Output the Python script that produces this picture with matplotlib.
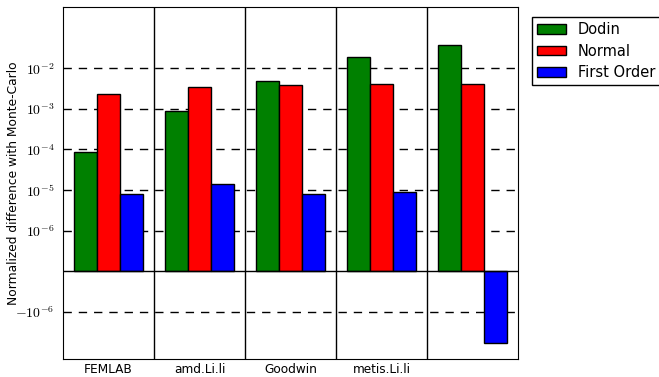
import matplotlib
matplotlib.use("Agg")
import matplotlib.pyplot as plt
import numpy as np

plt.rcParams['mathtext.fontset'] = 'cm'
plt.rcParams['font.family'] = 'DejaVu Sans'

# data
groups = ['FEMLAB', 'amd.Li.li', 'Goodwin', 'metis.Li.li', '']
dodin = [8.7e-5, 8.7e-4, 4.9e-3, 1.9e-2, 3.7e-2]
normal = [2.3e-3, 3.5e-3, 3.9e-3, 4.2e-3, 4.2e-3]
first_order = [8.0e-6, 1.4e-5, 8.0e-6, 9.1e-6, -5.9e-6]
series = [('Dodin', dodin, 'green'), ('Normal', normal, 'red'),
          ('First Order', first_order, 'blue')]
yticks = [-1e-6, 1e-6, 1e-5, 1e-4, 1e-3, 1e-2]
yticklabels = [r'$-10^{-6}$', r'$10^{-6}$', r'$10^{-5}$', r'$10^{-4}$',
               r'$10^{-3}$', r'$10^{-2}$']

fig = plt.figure(figsize=(6.59, 3.77), dpi=100)
ax = fig.add_axes([0.0956, 0.0477, 0.6905, 0.933])

x = np.arange(len(groups))
w = 0.25
for i, (name, vals, col) in enumerate(series):
    ax.bar(x + 0.125 + i * w, vals, w, align='edge', color=col,
           edgecolor='black', linewidth=1, label=name, zorder=3)

# linear part spans one decade on each side of zero
ax.set_yscale('symlog', linthresh=1e-6, linscale=0.9)
ax.set_ylim(-1.44e-5, 0.316)
ax.set_xlim(0, len(groups))

ax.set_yticks(yticks)
ax.set_yticklabels(yticklabels, fontsize=10)
ax.yaxis.set_minor_locator(matplotlib.ticker.NullLocator())
ax.set_xticks(x + 0.5)
ax.set_xticklabels(groups, fontsize=8.7)
ax.tick_params(axis='x', length=0, pad=3)
ax.tick_params(axis='y', length=0, pad=6)

for t in yticks:
    ax.axhline(t, color='black', linestyle=(0, (6, 5)), linewidth=1, zorder=1)
ax.axhline(0, color='black', linewidth=1, zorder=4)
for g in range(1, len(groups)):
    ax.axvline(g, color='black', linewidth=1, zorder=4)

ax.set_ylabel('Normalized difference with Monte-Carlo', fontsize=8.8)
ax.yaxis.set_label_coords(-0.095, 0.5)

ax.legend(loc='upper left', bbox_to_anchor=(0.807, 0.955),
          bbox_transform=fig.transFigure, fontsize=10.5, fancybox=False,
          edgecolor='black', framealpha=1, borderaxespad=0, borderpad=0.35,
          handlelength=2.0, handleheight=0.6, handletextpad=0.8,
          labelspacing=0.45)

fig.savefig('out.png', dpi=100)
